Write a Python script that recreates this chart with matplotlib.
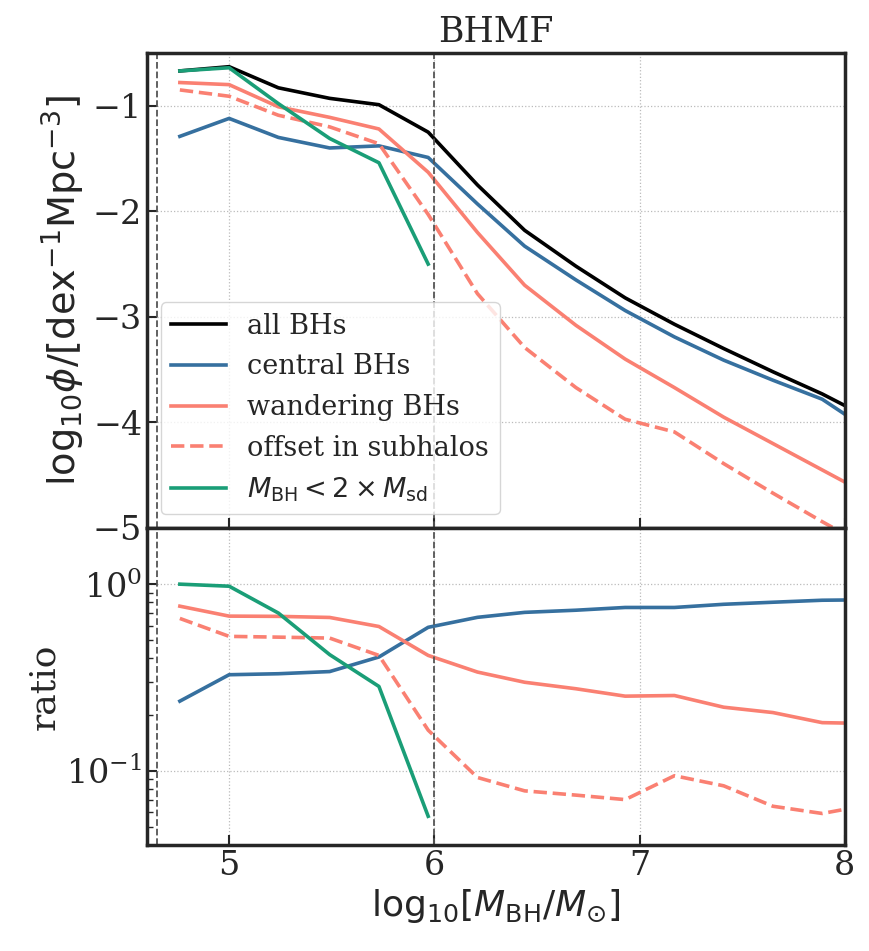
"""BHMF split by black-hole population, with ratio panel."""

import matplotlib

matplotlib.use("Agg")
import matplotlib.pyplot as plt

plt.rcParams["font.family"] = "serif"
plt.rcParams["font.serif"] = ["DejaVu Serif"]
plt.rcParams["mathtext.fontset"] = "dejavusans"

# bin centres in log10 M_BH
log_mass = [4.76, 5.00, 5.24, 5.49, 5.73, 5.97, 6.21, 6.44, 6.69, 6.93, 7.17, 7.41, 7.65, 7.89, 8.13]

# log10 phi [dex^-1 Mpc^-3]
phi_all = [-0.67, -0.63, -0.83, -0.93, -0.99, -1.25, -1.75, -2.18, -2.52, -2.82, -3.07, -3.30, -3.52, -3.73, -3.97]
phi_central = [-1.29, -1.12, -1.30, -1.40, -1.38, -1.49, -1.93, -2.33, -2.65, -2.94, -3.19, -3.41, -3.60, -3.78, -4.09]
phi_wander = [-0.78, -0.80, -1.01, -1.11, -1.22, -1.63, -2.20, -2.70, -3.08, -3.40, -3.67, -3.95, -4.20, -4.45, -4.70]
phi_offset = [-0.85, -0.91, -1.09, -1.20, -1.36, -2.03, -2.78, -3.29, -3.67, -3.97, -4.09, -4.39, -4.67, -4.94, -5.20]
phi_seed = [-0.67, -0.64, -0.98, -1.31, -1.54, -2.50]

# ratio to all BHs
ratio_central = [0.236, 0.327, 0.331, 0.340, 0.407, 0.587, 0.664, 0.706, 0.725, 0.750, 0.750, 0.780, 0.800, 0.820, 0.825]
ratio_wander = [0.762, 0.674, 0.672, 0.663, 0.593, 0.415, 0.338, 0.298, 0.275, 0.251, 0.253, 0.219, 0.205, 0.181, 0.179]
ratio_offset = [0.655, 0.525, 0.520, 0.514, 0.415, 0.165, 0.092, 0.078, 0.074, 0.070, 0.094, 0.083, 0.0645, 0.059, 0.066]
ratio_seed = [1.00, 0.975, 0.70, 0.419, 0.283, 0.057]

seed_limit = 4.65
mass_cut = 6.0

BLUE = "#36709f"
SALMON = "#fa8072"
GREEN = "#1a9e77"
SPINE = "#262626"


def style_axis(axis):
    for spine in axis.spines.values():
        spine.set_linewidth(2.5)
        spine.set_color(SPINE)
    axis.tick_params(which="major", direction="in", length=7, width=1.5, labelsize=24,
                     color=SPINE, labelcolor=SPINE, top=False, right=False)
    axis.tick_params(which="minor", direction="in", length=4, width=1.0, color=SPINE,
                     top=False, right=False)
    axis.grid(True, which="major", linestyle=":", color="#bbbbbb", linewidth=0.9)
    axis.axvline(seed_limit, color="#555555", linestyle="--", linewidth=1.3)
    axis.axvline(mass_cut, color="#555555", linestyle="--", linewidth=1.3)


figure = plt.figure(figsize=(8.7, 9.51), dpi=100)
top = figure.add_axes([0.169, 0.4448, 0.802, 0.4995])
bottom = figure.add_axes([0.169, 0.1115, 0.802, 0.3333], sharex=top)

lw = 2.6
n_seed = len(phi_seed)
top.plot(log_mass, phi_all, color="black", lw=lw, label="all BHs")
top.plot(log_mass, phi_central, color=BLUE, lw=lw, label="central BHs")
top.plot(log_mass, phi_wander, color=SALMON, lw=lw, label="wandering BHs")
top.plot(log_mass, phi_offset, color=SALMON, lw=lw, ls="--", label="offset in subhalos")
top.plot(log_mass[:n_seed], phi_seed, color=GREEN, lw=lw, label=r"$M_{\rm BH} < 2\times M_{\rm sd}$")
top.set_xlim(4.6, 8.0)
top.set_ylim(-5, -0.5)
top.set_yticks([-5, -4, -3, -2, -1])
top.set_title("BHMF", fontsize=25, color=SPINE, pad=8)
top.set_ylabel(r"$\mathrm{log}_{10}\phi/[\rm dex^{-1}Mpc^{-3}]$", fontsize=27.5, color=SPINE)
style_axis(top)
top.tick_params(labelbottom=False)
legend = top.legend(loc="lower left", fontsize=19.5, frameon=True, fancybox=True,
                    framealpha=0.8, edgecolor="#cccccc", handlelength=2.0,
                    borderpad=0.4, labelspacing=0.5)
for text in legend.get_texts():
    text.set_color(SPINE)

bottom.plot(log_mass, ratio_central, color=BLUE, lw=lw)
bottom.plot(log_mass, ratio_wander, color=SALMON, lw=lw)
bottom.plot(log_mass, ratio_offset, color=SALMON, lw=lw, ls="--")
bottom.plot(log_mass[:n_seed], ratio_seed, color=GREEN, lw=lw)
bottom.set_yscale("log")
bottom.set_ylim(0.04, 2.0)
bottom.set_xticks([5, 6, 7, 8])
bottom.set_ylabel("ratio", fontsize=26, color=SPINE)
bottom.set_xlabel(r"$\mathrm{log}_{10}[M_{\rm BH}/M_{\odot}]$", fontsize=26, color=SPINE)
style_axis(bottom)
bottom.set_xlim(4.6, 8.0)

figure.align_ylabels([top, bottom])
figure.savefig("out.png", dpi=100)
